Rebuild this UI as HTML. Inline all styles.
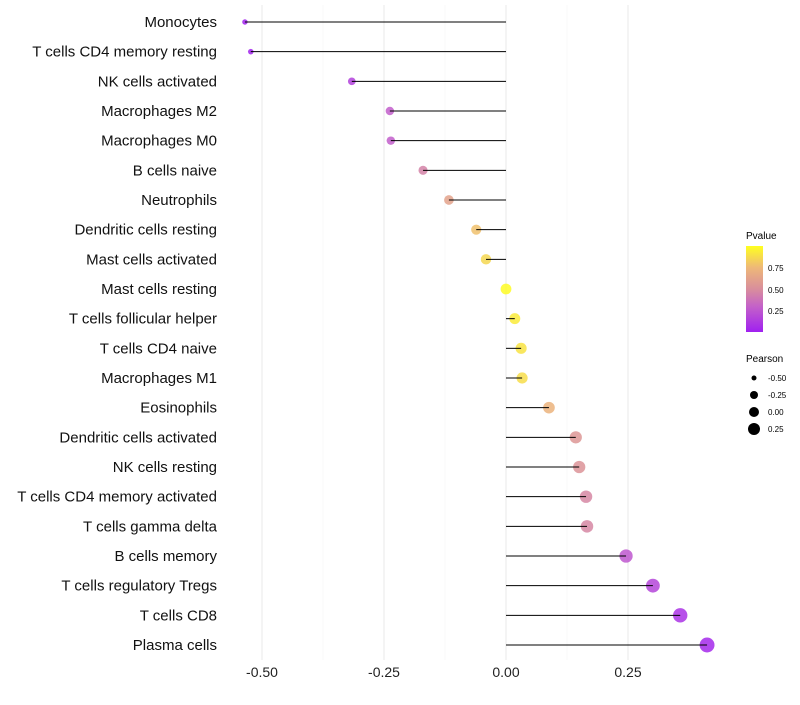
<!DOCTYPE html>
<html><head><meta charset="utf-8"><style>
body{margin:0;background:#fff;font-family:"Liberation Sans",sans-serif}
</style></head><body>
<svg id="chart" width="800" height="700" xmlns="http://www.w3.org/2000/svg" font-family="Liberation Sans, sans-serif">
<defs><linearGradient id="pg" x1="0" y1="1" x2="0" y2="0">
<stop offset="0" stop-color="#a020f0"/><stop offset="0.3" stop-color="#c462c8"/><stop offset="0.5" stop-color="#d98e9c"/><stop offset="0.75" stop-color="#eeb878"/><stop offset="1" stop-color="#ffff20"/></linearGradient></defs>
<g id="grid"></g><g id="points"></g><g id="marks"></g><g id="labels"></g>
<g>
<text x="746" y="239" font-size="10">Pvalue</text>
<rect x="746" y="246" width="17" height="86" fill="url(#pg)"/>
<text x="768" y="271" font-size="8">0.75</text><text x="768" y="293" font-size="8">0.50</text><text x="768" y="314" font-size="8">0.25</text>
</g>
<g>
<text x="746" y="362" font-size="10">Pearson</text>
<circle cx="754" cy="378" r="2.5"/><circle cx="754" cy="395" r="4"/><circle cx="754" cy="412" r="5"/><circle cx="754" cy="429" r="6"/>
<text x="768" y="381" font-size="8">-0.50</text><text x="768" y="398" font-size="8">-0.25</text><text x="768" y="415" font-size="8">0.00</text><text x="768" y="432" font-size="8">0.25</text>
</g>
</svg>
<script>
const categories=["Monocytes","T cells CD4 memory resting","NK cells activated","Macrophages M2","Macrophages M0","B cells naive","Neutrophils","Dendritic cells resting","Mast cells activated","Mast cells resting","T cells follicular helper","T cells CD4 naive","Macrophages M1","Eosinophils","Dendritic cells activated","NK cells resting","T cells CD4 memory activated","T cells gamma delta","B cells memory","T cells regulatory  Tregs","T cells CD8","Plasma cells"];
const pearson=[-0.535,-0.523,-0.316,-0.238,-0.236,-0.170,-0.117,-0.061,-0.041,0.0,0.018,0.031,0.033,0.088,0.143,0.150,0.164,0.166,0.246,0.301,0.357,0.412];
const pvalue=[0.01,0.02,0.15,0.28,0.28,0.45,0.62,0.78,0.86,0.99,0.93,0.9,0.88,0.72,0.55,0.53,0.47,0.47,0.25,0.17,0.08,0.04];
const xTicks=[-0.5,-0.25,0,0.25];
const xTickLabels=["-0.50","-0.25","0.00","0.25"];
const ns="http://www.w3.org/2000/svg";
const X=v=>506+v*488, Y=i=>22+i*(623/21), R=v=>5.4+v*5;
function col(p){const st=[[0,[160,32,240]],[0.3,[196,98,200]],[0.5,[217,142,156]],[0.75,[238,184,120]],[1,[255,255,32]]];
for(let i=1;i<st.length;i++)if(p<=st[i][0]){const a=st[i-1],b=st[i],t=(p-a[0])/(b[0]-a[0]);return "rgb("+a[1].map((c,k)=>Math.round(c+(b[1][k]-c)*t)).join(",")+")";}return "rgb(255,255,32)";}
function mk(t,at,parent){const e=document.createElementNS(ns,t);for(const k in at)e.setAttribute(k,at[k]);document.getElementById(parent).appendChild(e);return e;}
[-0.375,-0.125,0.125].forEach(v=>{const l=mk("line",{x1:X(v),x2:X(v),y1:5,y2:660,stroke:"#f4f4f4","stroke-width":0.6},"grid");

});
xTicks.forEach((v,i)=>{const l=mk("line",{x1:X(v),x2:X(v),y1:5,y2:660,stroke:"#ebebeb","stroke-width":1.1},"grid");


const t=mk("text",{x:X(v),y:677,"font-size":14,"text-anchor":"middle",fill:"#222"},"labels");t.textContent=xTickLabels[i];

});
categories.forEach((c,i)=>{const y=Y(i);
const p=mk("circle",{cx:X(pearson[i]),cy:y,r:R(pearson[i]),fill:col(pvalue[i]),"fill-opacity":0.85},"points");


const s=mk("line",{x1:X(0),x2:X(pearson[i]),y1:y,y2:y,stroke:"#000","stroke-width":1},"marks");


const t=mk("text",{x:217,y:y+5,"font-size":15,"text-anchor":"end",fill:"#111"},"labels");t.textContent=c;

});
</script>
</body></html>
